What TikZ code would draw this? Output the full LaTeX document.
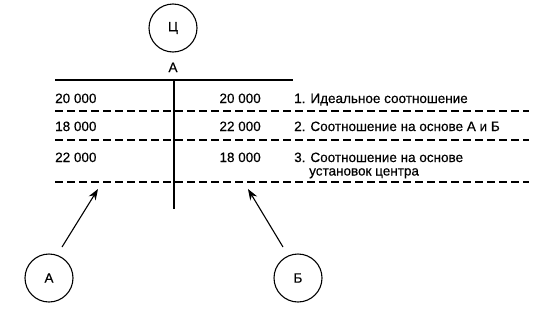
\documentclass[tikz,border=0pt]{standalone}
\usepackage{fontspec}
\setmainfont{Liberation Sans}[FakeBold=0.4]
\usetikzlibrary{arrows.meta}
\begin{document}
\begin{tikzpicture}[x=1pt,y=-1pt,
  every node/.style={font=\fontsize{13.5}{14}\selectfont, inner sep=0pt},
  circ/.style={draw, circle, minimum size=48pt, line width=1.1pt},
  rule/.style={line width=1.1pt},
  dashrule/.style={line width=1.1pt, dash pattern=on 8pt off 4pt},
  arr/.style={line width=1.1pt, -{Stealth[length=11pt,width=8pt]}},
  num/.style={anchor=base west},
  numr/.style={anchor=base east},
  lab/.style={anchor=base west, align=left}]
\useasboundingbox (0,0) rectangle (540,311);
% circles
\node[circ] (c) at (173,28) {Ц};
\node[circ] (a) at (49,278) {А};
\node[circ] (b) at (298,278) {Б};
% header
\node[anchor=base] (ha) at (173,72) {А};
\coordinate (tl) at (55,80);
\coordinate (tr) at (293,80);
\draw[rule] (tl) -- (tr);
\coordinate (vt) at (174,80);
\coordinate (vb) at (174,209);
\draw[rule] (vt) -- (vb);
% rows
\node[num] (l1) at (55,103) {20 000};
\node[numr] (r1) at (261,103) {20 000};
\node[lab] (t1) at (294,103) {1. Идеальное соотношение};
\node[num] (l2) at (55,131) {18 000};
\node[numr] (r2) at (261,131) {22 000};
\node[lab] (t2) at (294,131) {2. Соотношение на основе А и Б};
\node[num] (l3) at (55,162) {22 000};
\node[numr] (r3) at (261,162) {18 000};
\node[lab] (t3) at (294,162) {3. Соотношение на основе};
\node[anchor=base west] (t3b) at (t3.base west) [xshift=15pt,yshift=-13.5pt] {установок центра};
% dashed lines
\coordinate (d1l) at (55,111); \coordinate (d1r) at (529,111);
\coordinate (d2l) at (55,140); \coordinate (d2r) at (529,140);
\coordinate (d3l) at (55,182); \coordinate (d3r) at (529,182);
\draw[dashrule] (d1l) -- (d1r);
\draw[dashrule] (d2l) -- (d2r);
\draw[dashrule] (d3l) -- (d3r);
% arrows
\coordinate (pa) at (98,189);
\coordinate (pb) at (248,189);
\coordinate (sa) at (62,247);
\coordinate (sb) at (283,247);
\draw[arr] (sa) -- (pa);
\draw[arr] (sb) -- (pb);
\end{tikzpicture}
\end{document}
